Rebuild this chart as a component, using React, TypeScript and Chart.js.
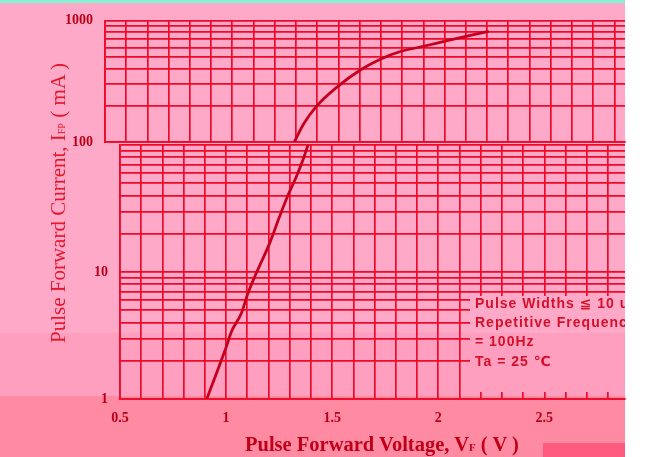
import React, { useEffect, useRef } from 'react';
import { Chart, registerables } from 'chart.js';

Chart.register(...registerables);

// ---- data ----
const lowerVoltage = [0.909, 1.001, 1.025, 1.072, 1.103, 1.142, 1.205, 1.252, 1.292, 1.331, 1.362, 1.386];
const lowerCurrent = [1, 2.58, 3.39, 4.73, 6.8, 9.77, 16.8, 27.3, 40.4, 56.3, 76.2, 100];
const upperVoltage = [1.392, 1.435, 1.499, 1.593, 1.703, 1.797, 1.892, 2.001, 2.112, 2.206, 2.308];
const upperCurrent = [100, 140, 199, 283, 391, 480, 555, 613, 682, 744, 812];

const xTickLabels = ['0.5', '1', '1.5', '2', '2.5'];
const upperYLabels = ['100', '1000'];
const lowerYLabels = ['1', '10'];
const legendLines = ['Pulse Widths ≦ 10 u', 'Repetitive Frequenc', '= 100Hz', 'Ta = 25 ℃'];

const X_MIN = 0.5;
const X_MAX_LOWER = 2.88;
const X_MAX_UPPER = 2.95;

// ---- styling ----
const W = 669;
const H = 457;
const GRID = '#ee0a2a';
const GRID_W = 1.7;
const CURVE = '#c4001e';
const TICK_COLOR = '#b80018';
const TICK_FONT = { family: '"Liberation Serif", "Times New Roman", serif', weight: 'bold' as const, size: 14 };

function linearTicks(min: number, max: number) {
  const out: { value: number }[] = [];
  for (let i = Math.round(min * 10); i / 10 <= max + 1e-9; i++) out.push({ value: i / 10 });
  return out;
}

function logTicks(min: number, max: number) {
  const out: { value: number }[] = [];
  for (let e = Math.floor(Math.log10(min)); e <= Math.ceil(Math.log10(max)); e++) {
    for (let s = 1; s <= 9; s++) {
      const v = Math.round(s * Math.pow(10, e) * 1000) / 1000;
      if (v >= min - 1e-9 && v <= max + 1e-9) out.push({ value: v });
    }
  }
  return out;
}

function makeConfig(opts: {
  xs: number[];
  ys: number[];
  xMax: number;
  yMin: number;
  yMax: number;
  yLabels: string[];
  showX: boolean;
  yWidth: number;
  xHeight: number;
  padTop: number;
  plugins: any[];
}): any {
  const grid = { color: GRID, lineWidth: GRID_W, drawTicks: false, tickLength: 0 };
  return {
    type: 'line',
    data: {
      datasets: [
        {
          data: opts.xs.map((x, i) => ({ x, y: opts.ys[i] })),
          borderColor: CURVE,
          borderWidth: 2.8,
          pointRadius: 0,
          cubicInterpolationMode: 'monotone',
          fill: false,
        },
      ],
    },
    options: {
      responsive: false,
      maintainAspectRatio: false,
      animation: false,
      events: [],
      layout: { padding: { left: 0, top: opts.padTop, right: W - 625, bottom: 0 } },
      plugins: { legend: { display: false }, tooltip: { enabled: false }, title: { display: false } },
      scales: {
        x: {
          type: 'linear',
          min: X_MIN,
          max: opts.xMax,
          afterBuildTicks: (s: any) => {
            s.ticks = linearTicks(X_MIN, opts.xMax);
          },
          afterFit: (s: any) => {
            s.height = opts.xHeight;
          },
          grid,
          border: { display: true, color: GRID, width: GRID_W },
          ticks: {
            display: opts.showX,
            autoSkip: false,
            maxRotation: 0,
            padding: 11,
            color: TICK_COLOR,
            font: TICK_FONT,
            callback: (v: any) => {
              const s = String(Math.round(Number(v) * 10) / 10);
              return xTickLabels.includes(s) ? s : '';
            },
          },
        },
        y: {
          type: 'logarithmic',
          min: opts.yMin,
          max: opts.yMax,
          afterBuildTicks: (s: any) => {
            s.ticks = logTicks(opts.yMin, opts.yMax);
          },
          afterFit: (s: any) => {
            s.width = opts.yWidth;
          },
          grid,
          border: { display: true, color: GRID, width: GRID_W },
          ticks: {
            autoSkip: false,
            padding: 12,
            color: TICK_COLOR,
            font: TICK_FONT,
            callback: (v: any) => {
              const s = String(Math.round(Number(v)));
              return opts.yLabels.includes(s) ? s : '';
            },
          },
        },
      },
    },
    plugins: opts.plugins,
  };
}

const legendBoxPlugin = {
  id: 'legendBox',
  afterDatasetsDraw(chart: any) {
    const { ctx, chartArea } = chart;
    const left = 470;
    const top = 296;
    const bottom = chartArea.bottom - 7;
    ctx.save();
    ctx.clearRect(left, top, chartArea.right - left + 2, bottom - top);
    ctx.beginPath();
    ctx.rect(0, 0, chartArea.right, H);
    ctx.clip();
    ctx.fillStyle = '#d4102a';
    ctx.font = 'bold 14px "Liberation Sans", Arial, "DejaVu Sans", sans-serif';
    try {
      (ctx as any).letterSpacing = '1px';
    } catch (e) {}
    ctx.textBaseline = 'middle';
    ctx.textAlign = 'left';
    const ys = [304, 323, 342, 362];
    legendLines.forEach((t, i) => ctx.fillText(t, 475, ys[i]));
    ctx.restore();
  },
};

export default function App() {
  const upperRef = useRef<HTMLCanvasElement>(null);
  const lowerRef = useRef<HTMLCanvasElement>(null);

  useEffect(() => {
    const upper = new Chart(
      upperRef.current as HTMLCanvasElement,
      makeConfig({
        xs: upperVoltage,
        ys: upperCurrent,
        xMax: X_MAX_UPPER,
        yMin: 100,
        yMax: 1000,
        yLabels: upperYLabels,
        showX: false,
        yWidth: 105,
        xHeight: H - 142,
        padTop: 11,
        plugins: [],
      })
    );
    const lower = new Chart(
      lowerRef.current as HTMLCanvasElement,
      makeConfig({
        xs: lowerVoltage,
        ys: lowerCurrent,
        xMax: X_MAX_LOWER,
        yMin: 1,
        yMax: 100,
        yLabels: lowerYLabels,
        showX: true,
        yWidth: 120,
        xHeight: H - 399,
        padTop: 145,
        plugins: [legendBoxPlugin],
      })
    );
    return () => {
      upper.destroy();
      lower.destroy();
    };
  }, []);

  const abs = (l: number, t: number, w: number, h: number, bg: string): React.CSSProperties => ({
    position: 'absolute',
    left: l,
    top: t,
    width: w,
    height: h,
    background: bg,
  });

  return (
    <div style={{ position: 'fixed', left: 0, top: 0, width: W, height: H, background: '#ffffff', overflow: 'hidden' }}>
      <div style={abs(0, 0, 625, 3, '#86f2d4')} />
      <div style={abs(0, 3, 625, 330, '#ffa9c9')} />
      <div style={abs(0, 333, 625, 63, '#ff9fc0')} />
      <div style={abs(0, 396, 625, 61, '#ff8ba3')} />
      <div style={abs(543, 443, 82, 14, '#ff5a80')} />
      <canvas ref={upperRef} width={W} height={H} style={{ position: 'absolute', left: 0, top: 0, width: W, height: H }} />
      <canvas ref={lowerRef} width={W} height={H} style={{ position: 'absolute', left: 0, top: 0, width: W, height: H }} />
      <div
        style={{
          position: 'absolute',
          left: 60,
          top: 203,
          transform: 'translate(-50%, -50%) rotate(-90deg)',
          whiteSpace: 'nowrap',
          fontFamily: '"Liberation Serif", "Times New Roman", serif',
          fontSize: 21,
          lineHeight: '21px',
          color: '#e0182c',
        }}
      >
        Pulse Forward Current, I<span style={{ fontSize: 10 }}>FP</span> ( mA )
      </div>
      <div
        style={{
          position: 'absolute',
          left: 245,
          top: 434,
          whiteSpace: 'nowrap',
          fontFamily: '"Liberation Serif", "Times New Roman", serif',
          fontWeight: 'bold',
          fontSize: 20.5,
          lineHeight: '20px',
          color: '#c00018',
        }}
      >
        Pulse Forward Voltage, V<span style={{ fontSize: 11 }}>F</span> ( V )
      </div>
    </div>
  );
}
